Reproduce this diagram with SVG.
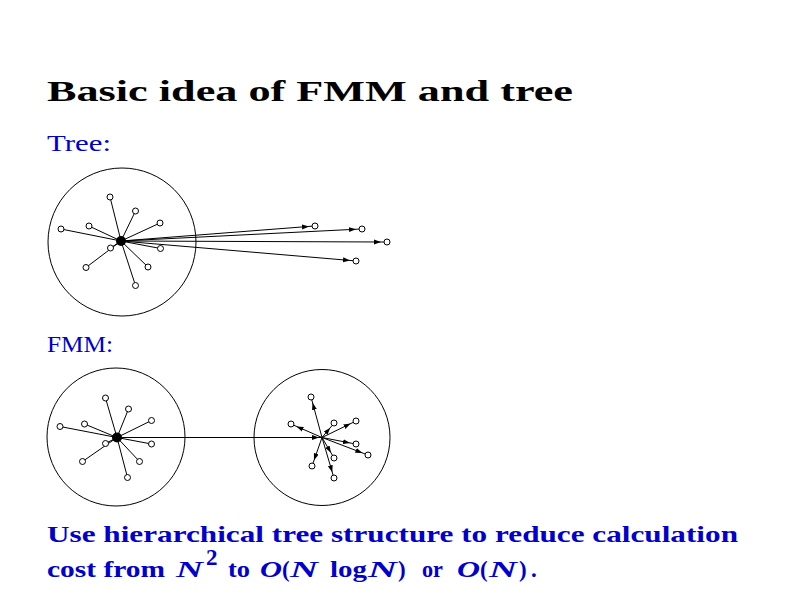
<svg xmlns="http://www.w3.org/2000/svg" width="800" height="600" viewBox="0 0 800 600">
<style>
.title{font-family:"Liberation Serif",serif;font-weight:bold;font-size:29px;fill:#000}
.lbl{font-family:"Liberation Serif",serif;font-size:23px;fill:#0000CC}
.body{font-family:"Liberation Serif",serif;font-weight:bold;font-size:23px;fill:#0000CC}
.it{font-style:italic}
.cell{fill:none;stroke:#000;stroke-width:1}
.p{fill:#fff;stroke:#000;stroke-width:1}
.c{fill:#000}
.ln{stroke:#000;stroke-width:1;fill:none}
.ar{stroke:#000;stroke-width:1;fill:none;marker-end:url(#ah)}
</style>
<defs>
<marker id="ah" viewBox="0 0 10 6" refX="10" refY="3" markerWidth="10" markerHeight="6" orient="auto" markerUnits="userSpaceOnUse">
<path d="M0,0.5 L7,3 L0,5.5 z" fill="#000"/>
</marker>
</defs>
<rect width="800" height="600" fill="#fff"/>
<text class="title" x="47" y="101" textLength="526" lengthAdjust="spacingAndGlyphs">Basic idea of FMM and tree</text>
<text class="lbl" x="47" y="151" textLength="64" lengthAdjust="spacingAndGlyphs">Tree:</text>
<text class="lbl" x="47" y="352" textLength="66" lengthAdjust="spacingAndGlyphs">FMM:</text>

<g id="connectors">
<line class="ln" x1="121" y1="241" x2="110" y2="197"/>
<line class="ln" x1="121" y1="241" x2="135.5" y2="211"/>
<line class="ln" x1="121" y1="241" x2="160" y2="223"/>
<line class="ln" x1="121" y1="241" x2="89" y2="226"/>
<line class="ln" x1="121" y1="241" x2="61" y2="229"/>
<line class="ln" x1="121" y1="241" x2="110.5" y2="248"/>
<line class="ln" x1="121" y1="241" x2="160.5" y2="248.5"/>
<line class="ln" x1="121" y1="241" x2="86" y2="267.5"/>
<line class="ln" x1="121" y1="241" x2="148" y2="267"/>
<line class="ln" x1="121" y1="241" x2="135.5" y2="285.5"/>
<line class="ar" x1="121" y1="241" x2="312" y2="226.2"/>
<line class="ar" x1="121" y1="241" x2="359" y2="229.1"/>
<line class="ar" x1="121" y1="241" x2="384" y2="242"/>
<line class="ar" x1="121" y1="241" x2="353" y2="260.7"/>
<line class="ln" x1="117" y1="437.5" x2="105.5" y2="398"/>
<line class="ln" x1="117" y1="437.5" x2="128.5" y2="409"/>
<line class="ln" x1="117" y1="437.5" x2="151.5" y2="420.5"/>
<line class="ln" x1="117" y1="437.5" x2="84.5" y2="424"/>
<line class="ln" x1="117" y1="437.5" x2="60" y2="426.5"/>
<line class="ln" x1="117" y1="437.5" x2="105.5" y2="443.5"/>
<line class="ln" x1="117" y1="437.5" x2="151.5" y2="444"/>
<line class="ln" x1="117" y1="437.5" x2="82.5" y2="461.5"/>
<line class="ln" x1="117" y1="437.5" x2="139.5" y2="461.5"/>
<line class="ln" x1="117" y1="437.5" x2="127.5" y2="477.5"/>
<line class="ar" x1="117" y1="437.5" x2="322" y2="437.5"/>
<line class="ar" x1="322" y1="437.5" x2="311.8" y2="399.9"/>
<line class="ar" x1="322" y1="437.5" x2="293.7" y2="425.2"/>
<line class="ar" x1="322" y1="437.5" x2="332.1" y2="425.5"/>
<line class="ar" x1="322" y1="437.5" x2="353.3" y2="422.3"/>
<line class="ar" x1="322" y1="437.5" x2="353" y2="443.5"/>
<line class="ar" x1="322" y1="437.5" x2="365.2" y2="454"/>
<line class="ar" x1="322" y1="437.5" x2="332.5" y2="455.4"/>
<line class="ar" x1="322" y1="437.5" x2="313" y2="463.2"/>
<line class="ar" x1="322" y1="437.5" x2="333.1" y2="475.1"/>
</g>

<g id="tree-cell">
<circle class="cell" cx="122" cy="242" r="74"/>
<circle class="p" cx="110" cy="197" r="3"/>
<circle class="p" cx="135.5" cy="211" r="3"/>
<circle class="p" cx="160" cy="223" r="3"/>
<circle class="p" cx="89" cy="226" r="3"/>
<circle class="p" cx="61" cy="229" r="3"/>
<circle class="p" cx="110.5" cy="248" r="3"/>
<circle class="p" cx="160.5" cy="248.5" r="3"/>
<circle class="p" cx="86" cy="267.5" r="3"/>
<circle class="p" cx="148" cy="267" r="3"/>
<circle class="p" cx="135.5" cy="285.5" r="3"/>
<circle class="c" cx="121" cy="241" r="5"/>
</g>
<g id="tree-targets">
<circle class="p" cx="315" cy="226" r="3"/>
<circle class="p" cx="362" cy="229" r="3"/>
<circle class="p" cx="387" cy="242" r="3"/>
<circle class="p" cx="356" cy="261" r="3"/>
</g>

<g id="fmm-source">
<circle class="cell" cx="116" cy="437" r="69"/>
<circle class="p" cx="105.5" cy="398" r="3"/>
<circle class="p" cx="128.5" cy="409" r="3"/>
<circle class="p" cx="151.5" cy="420.5" r="3"/>
<circle class="p" cx="84.5" cy="424" r="3"/>
<circle class="p" cx="60" cy="426.5" r="3"/>
<circle class="p" cx="105.5" cy="443.5" r="3"/>
<circle class="p" cx="151.5" cy="444" r="3"/>
<circle class="p" cx="82.5" cy="461.5" r="3"/>
<circle class="p" cx="139.5" cy="461.5" r="3"/>
<circle class="p" cx="127.5" cy="477.5" r="3"/>
<circle class="c" cx="117" cy="437.5" r="5"/>
</g>

<g id="fmm-target">
<circle class="cell" cx="322" cy="437.5" r="68"/>
<circle class="p" cx="311" cy="397" r="3"/>
<circle class="p" cx="291" cy="424" r="3"/>
<circle class="p" cx="334" cy="423" r="3"/>
<circle class="p" cx="356" cy="421" r="3"/>
<circle class="p" cx="356" cy="444" r="3"/>
<circle class="p" cx="368" cy="455" r="3"/>
<circle class="p" cx="334" cy="458" r="3"/>
<circle class="p" cx="312" cy="466" r="3"/>
<circle class="p" cx="334" cy="478" r="3"/>
</g>

<g id="caption">
<text class="body" x="47" y="542" textLength="691" lengthAdjust="spacingAndGlyphs">Use hierarchical tree structure to reduce calculation</text>
<text class="body" x="47" y="577" textLength="118" lengthAdjust="spacingAndGlyphs">cost from</text>
<text class="body it" x="176" y="577" textLength="27" lengthAdjust="spacingAndGlyphs">N</text>
<text class="body" x="206" y="565" font-size="14">2</text>
<text class="body" x="228" y="577" textLength="22" lengthAdjust="spacingAndGlyphs">to</text>
<text class="body it" x="260" y="577" textLength="22" lengthAdjust="spacingAndGlyphs">O</text>
<text class="body" x="282" y="577">(</text>
<text class="body it" x="290" y="577" textLength="28" lengthAdjust="spacingAndGlyphs">N</text>
<text class="body" x="330" y="577" textLength="37" lengthAdjust="spacingAndGlyphs">log</text>
<text class="body it" x="368" y="577" textLength="29" lengthAdjust="spacingAndGlyphs">N</text>
<text class="body" x="398" y="577">)</text>
<text class="body" x="422" y="577" textLength="21" lengthAdjust="spacingAndGlyphs">or</text>
<text class="body it" x="457" y="577" textLength="23" lengthAdjust="spacingAndGlyphs">O</text>
<text class="body" x="480" y="577">(</text>
<text class="body it" x="489" y="577" textLength="28" lengthAdjust="spacingAndGlyphs">N</text>
<text class="body" x="519" y="577">)</text>
<text class="body" x="531" y="577">.</text>
</g>
</svg>
